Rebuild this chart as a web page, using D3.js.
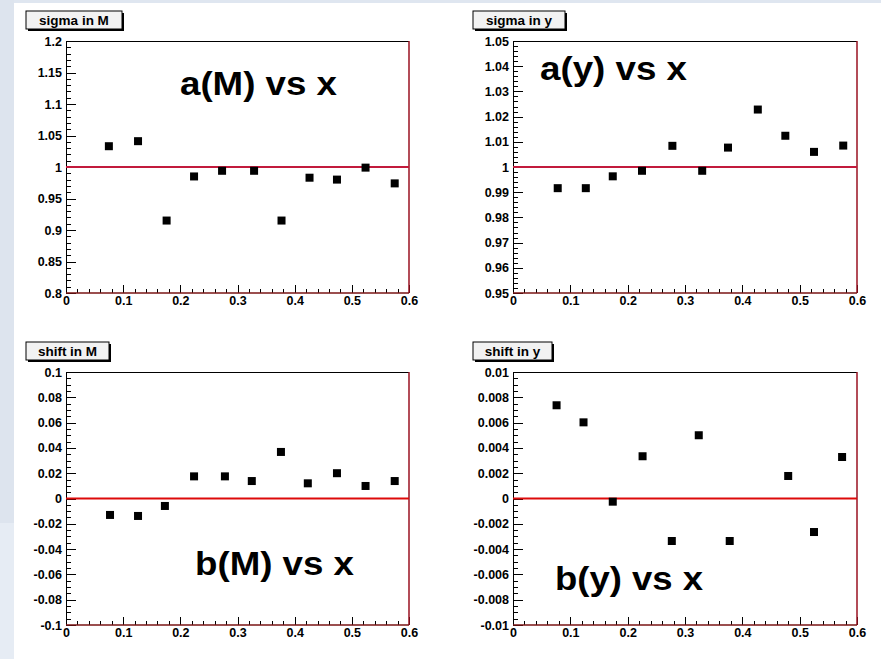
<!DOCTYPE html>
<html>
<head>
<meta charset="utf-8">
<script src="https://cdn.jsdelivr.net/npm/d3@7"></script>
<style>
  body { margin: 0; background: #fff; }
  svg { display: block; }
  text { font-family: "Liberation Sans", Arial, Helvetica, sans-serif; font-weight: bold; fill: #000; }
</style>
</head>
<body>
<svg id="chart" width="881" height="659"></svg>
<script>
// ---- data ----
var titles = ["sigma in M", "sigma in y", "shift in M", "shift in y"];
var labels = ["a(M) vs x", "a(y) vs x", "b(M) vs x", "b(y) vs x"];
var refValues = [1, 1, 0, 0];

var xTicks = [0, 0.1, 0.2, 0.3, 0.4, 0.5, 0.6];

var xSigmaM = [0.075, 0.126, 0.176, 0.224, 0.273, 0.329, 0.377, 0.426, 0.474, 0.524, 0.575];
var sigmaM  = [1.033, 1.041, 0.915, 0.985, 0.994, 0.994, 0.915, 0.983, 0.980, 0.999, 0.974];

var xSigmaY = [0.078, 0.127, 0.174, 0.225, 0.278, 0.330, 0.375, 0.427, 0.475, 0.525, 0.576];
var sigmaY  = [0.9916, 0.9916, 0.9963, 0.9985, 1.0084, 0.9985, 1.0077, 1.0228, 1.0124, 1.0060, 1.0085];

var xShiftM = [0.077, 0.126, 0.173, 0.224, 0.278, 0.325, 0.376, 0.423, 0.474, 0.524, 0.575];
var shiftM  = [-0.0130, -0.0138, -0.0059, 0.0175, 0.0175, 0.0138, 0.0368, 0.0120, 0.0200, 0.0099, 0.0138];

var xShiftY = [0.076, 0.123, 0.174, 0.226, 0.277, 0.324, 0.378, 0.480, 0.525, 0.574];
var shiftY  = [0.00737, 0.00602, -0.00025, 0.00334, -0.00336, 0.0050, -0.00336, 0.00178, -0.00265, 0.00328];

var yTicksSigmaM = [0.8, 0.85, 0.9, 0.95, 1, 1.05, 1.1, 1.15, 1.2];
var yTicksSigmaY = [0.95, 0.96, 0.97, 0.98, 0.99, 1, 1.01, 1.02, 1.03, 1.04, 1.05];
var yTicksShiftM = [-0.1, -0.08, -0.06, -0.04, -0.02, 0, 0.02, 0.04, 0.06, 0.08, 0.1];
var yTicksShiftY = [-0.01, -0.008, -0.006, -0.004, -0.002, 0, 0.002, 0.004, 0.006, 0.008, 0.01];

// ---- layout ----
var frames = [
  {left: 66,  top: 41,  right: 409, bottom: 293},
  {left: 513, top: 41,  right: 857, bottom: 293},
  {left: 66,  top: 372, right: 409, bottom: 625},
  {left: 513, top: 372, right: 857, bottom: 625}
];
var labelPos = [ // offset from frame top-left, width of the big label
  {dx: 114, dy: 54, w: 157},
  {dx: 27,  dy: 39, w: 147},
  {dx: 129, dy: 203, w: 159},
  {dx: 42,  dy: 218, w: 148}
];
var titleWidths = [96, 92, 83, 79];
var minorSteps = [0.01, 0.002, 0.005, 0.0005];
var refColors = ["#c21a3c", "#c21a3c", "#dd0a0a", "#dd0a0a"];

var panels = [
  {xs: xSigmaM, ys: sigmaM, yTicks: yTicksSigmaM},
  {xs: xSigmaY, ys: sigmaY, yTicks: yTicksSigmaY},
  {xs: xShiftM, ys: shiftM, yTicks: yTicksShiftM},
  {xs: xShiftY, ys: shiftY, yTicks: yTicksShiftY}
];

var svg = d3.select("#chart");

// light blue strips at the edge of the slide
svg.append("rect").attr("x", 0).attr("y", 0).attr("width", 881).attr("height", 3).attr("fill", "#dfe6f0");
svg.append("rect").attr("x", 0).attr("y", 0).attr("width", 14).attr("height", 523).attr("fill", "#dde4ee");
svg.append("rect").attr("x", 0).attr("y", 523).attr("width", 14).attr("height", 136).attr("fill", "#e6ecf4");

function fmt(d) { return String(+d.toFixed(4)); }

panels.forEach(function(p, i) {
  var f = frames[i];
  var g = svg.append("g");

  var x = d3.scaleLinear().domain([0, 0.6]).range([f.left, f.right]);
  var y = d3.scaleLinear()
    .domain([p.yTicks[0], p.yTicks[p.yTicks.length - 1]])
    .range([f.bottom, f.top]);

  // minor ticks
  var yMinor = d3.range(p.yTicks[0], p.yTicks[p.yTicks.length - 1] + minorSteps[i] / 2, minorSteps[i]);
  var xMinor = d3.range(0, 0.6 + 0.01, 0.02);

  g.append("g")
    .attr("transform", "translate(" + f.left + ",0)")
    .call(d3.axisLeft(y).tickValues(yMinor).tickSize(-5).tickFormat(""))
    .call(function(a) { a.select(".domain").remove(); });
  g.append("g")
    .attr("transform", "translate(0," + f.bottom + ")")
    .call(d3.axisBottom(x).tickValues(xMinor).tickSize(-4).tickFormat(""))
    .call(function(a) { a.select(".domain").remove(); });

  // major ticks + labels
  var ya = g.append("g")
    .attr("transform", "translate(" + f.left + ",0)")
    .call(d3.axisLeft(y).tickValues(p.yTicks).tickSize(-10).tickPadding(4).tickFormat(fmt));
  ya.select(".domain").remove();
  ya.selectAll("text").attr("font-size", 12.5).style("font-family", null);

  var xa = g.append("g")
    .attr("transform", "translate(0," + f.bottom + ")")
    .call(d3.axisBottom(x).tickValues(xTicks).tickSize(-8).tickPadding(3).tickFormat(fmt));
  xa.select(".domain").remove();
  xa.selectAll("text").attr("font-size", 12.5).style("font-family", null);

  g.selectAll(".tick line").attr("stroke", "#000").attr("shape-rendering", "crispEdges");

  // frame
  g.append("line").attr("x1", f.left).attr("x2", f.right).attr("y1", f.top).attr("y2", f.top)
    .attr("stroke", "#000").attr("shape-rendering", "crispEdges");
  g.append("line").attr("x1", f.left).attr("x2", f.left).attr("y1", f.top).attr("y2", f.bottom)
    .attr("stroke", "#000").attr("shape-rendering", "crispEdges");
  g.append("line").attr("x1", f.right).attr("x2", f.right).attr("y1", f.top).attr("y2", f.bottom)
    .attr("stroke", "#9a1020").attr("stroke-width", 1.5);
  g.append("line").attr("x1", f.left).attr("x2", f.right).attr("y1", f.bottom).attr("y2", f.bottom)
    .attr("stroke", "#7a1515").attr("stroke-width", 1.5);

  // reference line
  g.append("line")
    .attr("x1", x(0)).attr("x2", x(0.6))
    .attr("y1", y(refValues[i])).attr("y2", y(refValues[i]))
    .attr("stroke", refColors[i]).attr("stroke-width", 2);

  // markers
  g.selectAll("rect.pt")
    .data(p.ys)
    .enter().append("rect")
    .attr("class", "pt")
    .attr("x", function(d, k) { return x(p.xs[k]) - 4; })
    .attr("y", function(d) { return y(d) - 4; })
    .attr("width", 8).attr("height", 8)
    .attr("fill", "#000");

  // title box
  var tw = titleWidths[i];
  var tb = g.append("g").attr("transform", "translate(" + (f.left - 40) + "," + (f.top - 30) + ")");
  tb.append("rect").attr("x", 2).attr("y", 2).attr("width", tw).attr("height", 18).attr("fill", "#000");
  tb.append("rect").attr("x", 0).attr("y", 0).attr("width", tw).attr("height", 18)
    .attr("fill", "#f2f2f2").attr("stroke", "#000").attr("stroke-width", 1);
  tb.append("text").attr("x", tw / 2).attr("y", 13.5).attr("font-size", 13.5)
    .attr("text-anchor", "middle").text(titles[i]);

  // big label
  g.append("text")
    .attr("x", f.left + labelPos[i].dx)
    .attr("y", f.top + labelPos[i].dy)
    .attr("font-size", 34)
    .attr("textLength", labelPos[i].w)
    .attr("lengthAdjust", "spacingAndGlyphs")
    .text(labels[i]);
});
</script>
</body>
</html>
